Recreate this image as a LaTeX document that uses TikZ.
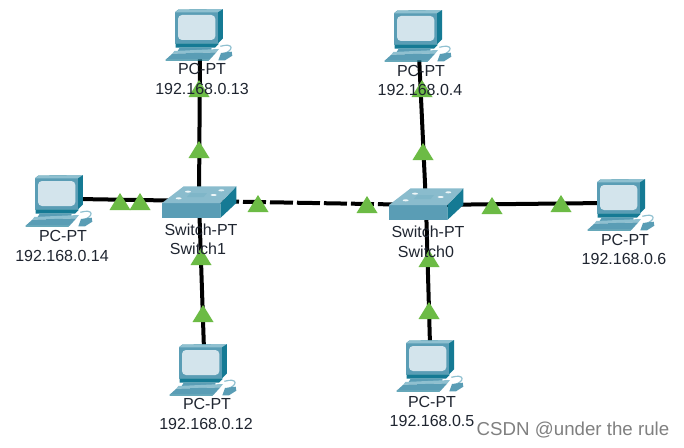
\documentclass[tikz,border=0pt]{standalone}
\usepackage{fontspec}
\setmainfont{Liberation Sans}
\definecolor{tealM}{HTML}{5A9DB5}
\definecolor{tealD}{HTML}{157A94}
\definecolor{tealL}{HTML}{8FC0D0}
\definecolor{screenC}{HTML}{D3E4EC}
\definecolor{mGreen}{HTML}{6CBB45}
\definecolor{labC}{HTML}{1F2530}
\tikzset{
  link/.style={line width=4pt,black},
  dashlink/.style={link,dash pattern=on 23pt off 4pt,dash phase=10pt},
  lab/.style={font=\fontsize{16}{16}\selectfont,text=labC,inner sep=0pt},
  pcpic/.pic={
    \begin{scope}[x=.3333pt,y=-.3333pt]
      \fill[tealD] (0,10)--(10,2)--(144,0)--(144,88)--(128,104)--(0,104)--cycle;
      \fill[tealM] (0,10)--(128,10)--(128,102)--(0,102)--cycle;
      \fill[tealL] (0,10)--(10,2)--(144,0)--(128,10)--cycle;
      \fill[screenC,rounded corners=4pt] (9,18)--(121,18)--(121,93)--(9,93)--cycle;
      \fill[tealD] (2,104)--(132,104)--(120,116)--(2,116)--cycle;
      \fill[tealM] (14,116)--(110,116)--(108,124)--(8,126)--cycle;
      \fill[tealL] (-2,126)--(132,120)--(124,130)--(-8,134)--cycle;
      \fill[tealM] (-8,134)--(124,130)--(104,152)--(-28,152)--cycle;
      \fill[tealD] (-28,152)--(104,152)--(100,155)--(-28,155)--cycle;
      \draw[tealL,line width=1.2pt] (136,112)..controls (176,100) and (178,124)..(146,134);
      \fill[tealM] (138,132)--(170,128)--(172,140)--(150,154)--(130,154)--cycle;
    \end{scope}
  },
  swpic/.pic={
    \begin{scope}[x=.3333pt,y=-.3333pt]
      \fill[tealM] (0,0)--(175,0)--(175,45)--(0,45)--cycle;
      \fill[tealD] (175,0)--(223,-50)--(223,0)--(175,45)--cycle;
      \fill[tealL!90!tealM] (0,0)--(65,-50)--(223,-50)--(175,0)--cycle;
      \fill[white!85!tealL] (50,-14) ellipse (9 and 3);
      \fill[white!85!tealL] (78,-34) ellipse (9 and 3);
      \fill[white!85!tealL] (155,-24) ellipse (9 and 3);
      \fill[white!85!tealL] (178,-38) ellipse (9 and 3);
      \fill[tealL!70!tealM] (85,-30)--(135,-30)--(125,-18)--(75,-18)--cycle;
    \end{scope}
  },
  tripic/.pic={\fill[mGreen] (-10.5,8)--(0,-9)--(10.5,8)--cycle;}
}
\begin{document}
\begin{tikzpicture}[x=1pt,y=-1pt]
\path[use as bounding box,fill=white] (0,0) rectangle (684,447);
% anchors
\coordinate (pc13) at (200,52);
\coordinate (pc4) at (419,55);
\coordinate (pc14) at (78,199);
\coordinate (pc6) at (605,203);
\coordinate (pc12) at (204,350);
\coordinate (pc5) at (430,345);
\coordinate (sw1) at (199,201);
\coordinate (sw0) at (426,205);
% links
\draw[link] (pc13) -- (sw1);
\draw[link] (pc14) -- (sw1);
\draw[link] (pc12) -- (sw1);
\draw[link] (pc4) -- (sw0);
\draw[link] (pc6) -- (sw0);
\draw[link] (pc5) -- (sw0);
\draw[dashlink] (sw1) -- (sw0);
% triangles
\foreach \p in {(199,89),(199,150),(120,202),(140,202),(258,204),(367,205),(423,152),(422,89),(492,206),(561,204),(429,259),(429,311),(201,257),(203,314)}
  \pic at \p {tripic};
% devices
\pic at (175,9) {pcpic};
\pic at (394,10) {pcpic};
\pic at (35,175) {pcpic};
\pic at (597,179) {pcpic};
\pic at (179,344) {pcpic};
\pic at (406,340) {pcpic};
\pic at (162,203) {swpic};
\pic at (389,205) {swpic};
% labels
\node[lab] (t1) at (202,69) {PC-PT};
\node[lab] (t2) at (202,89) {192.168.0.13};
\node[lab] (t3) at (421,71) {PC-PT};
\node[lab] (t4) at (420,90) {192.168.0.4};
\node[lab] (t5) at (63,236) {PC-PT};
\node[lab] (t6) at (62,256) {192.168.0.14};
\node[lab] (t7) at (625,240) {PC-PT};
\node[lab] (t8) at (624,259) {192.168.0.6};
\node[lab] (t9) at (207,404) {PC-PT};
\node[lab] (t10) at (206,424) {192.168.0.12};
\node[lab] (t11) at (432,402) {PC-PT};
\node[lab] (t12) at (432,421) {192.168.0.5};
\node[lab] (t13) at (201,230) {Switch-PT};
\node[lab] (t14) at (198,249) {Switch1};
\node[lab] (t15) at (428,232) {Switch-PT};
\node[lab] (t16) at (426,252) {Switch0};
\node[font=\fontsize{18.7}{18.7}\selectfont,text=black!50,inner sep=0pt] (wm) at (573,430) {CSDN @under the rule};
\end{tikzpicture}
\end{document}
